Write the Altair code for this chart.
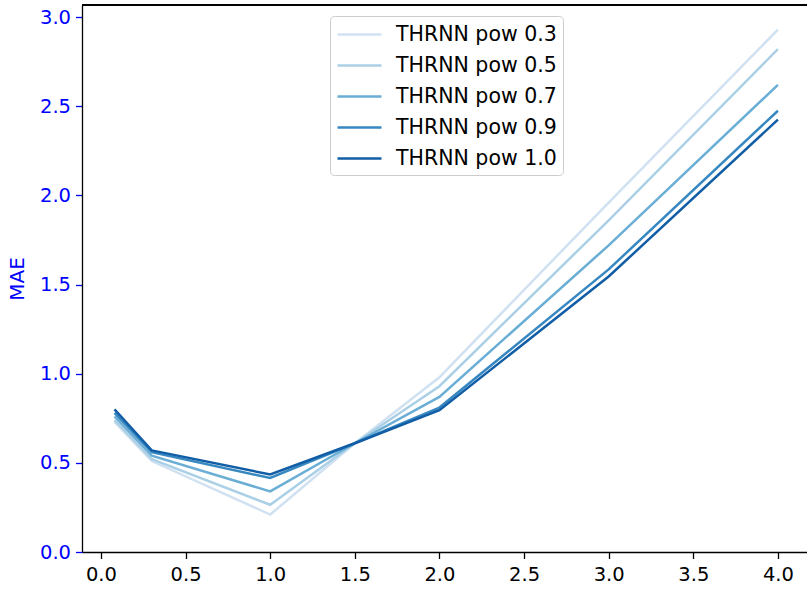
import altair as alt
import pandas as pd

# Input exponents (x) and MAE per model variant
x_vals = [0.08, 0.3, 1.0, 1.5, 2.0, 3.0, 4.0]
mae_pow03 = [0.73, 0.51, 0.21, 0.61, 0.98, 1.96, 2.93]
mae_pow05 = [0.74, 0.52, 0.265, 0.61, 0.93, 1.86, 2.82]
mae_pow07 = [0.76, 0.54, 0.34, 0.61, 0.87, 1.72, 2.62]
mae_pow09 = [0.78, 0.56, 0.415, 0.61, 0.81, 1.585, 2.475]
mae_pow10 = [0.80, 0.57, 0.435, 0.61, 0.795, 1.545, 2.425]

series_names = ["THRNN pow 0.3", "THRNN pow 0.5", "THRNN pow 0.7",
                "THRNN pow 0.9", "THRNN pow 1.0"]
series_colors = ["#d0e1f2", "#abd0e6", "#6aaed6", "#3787c0", "#125ea6"]
series_values = [mae_pow03, mae_pow05, mae_pow07, mae_pow09, mae_pow10]

rows = []
for name, vals in zip(series_names, series_values):
    for x, y in zip(x_vals, vals):
        rows.append({"x": x, "mae": y, "model": name})
df = pd.DataFrame(rows)

W, H = 725, 547
FONT = "DejaVu Sans"
FS = 19.5

lines = alt.Chart(df).mark_line(strokeWidth=2.5, clip=True).encode(
    x=alt.X("x:Q",
            scale=alt.Scale(domain=[-0.112, 4.172], nice=False, zero=False),
            axis=alt.Axis(values=[0, 0.5, 1, 1.5, 2, 2.5, 3, 3.5, 4],
                          format=".1f", title=None, grid=False,
                          labelColor="black", labelFontSize=FS,
                          labelFont=FONT, labelPadding=7,
                          tickSize=6.5, tickWidth=1.3, tickColor="black",
                          domainColor="black", domainWidth=1.3)),
    y=alt.Y("mae:Q",
            scale=alt.Scale(domain=[0, 3.068], nice=False, zero=False),
            axis=alt.Axis(values=[0, 0.5, 1, 1.5, 2, 2.5, 3],
                          format=".1f", title="MAE", grid=False,
                          labelColor="#0000ff", labelFontSize=FS,
                          labelFont=FONT, labelPadding=5,
                          tickSize=6.5, tickWidth=1.3, tickColor="#0000ff",
                          domainColor="black", domainWidth=1.3,
                          titleColor="#0000ff", titleFont=FONT,
                          titleFontSize=20, titleFontWeight="normal",
                          titleAngle=-90, titleAlign="center",
                          titleBaseline="middle", titleX=-65, titleY=H / 2)),
    color=alt.Color("model:N",
                    scale=alt.Scale(domain=series_names, range=series_colors),
                    legend=alt.Legend(title=None, orient="none",
                                      legendX=248, legendY=11,
                                      # short horizontal stroke, 4 units long
                                      symbolType="M-1,0L3,0", symbolSize=484,
                                      symbolStrokeWidth=2.5,
                                      labelFontSize=20.5, labelFont=FONT,
                                      labelColor="black", labelOffset=35,
                                      labelLimit=400,
                                      rowPadding=8.0, padding=6,
                                      fillColor="rgba(255,255,255,0.8)",
                                      strokeColor="#cccccc", cornerRadius=4)),
)

# top frame edge of the plot area
top_edge = alt.Chart(df).mark_rule(color="black", strokeWidth=1.3).encode(
    x=alt.value(0), x2=alt.value(W), y=alt.value(0)
)

chart = alt.layer(lines, top_edge).properties(
    width=W, height=H,
    autosize=alt.AutoSizeParams(type="none"),
    padding={"left": 82, "top": 5, "right": 0, "bottom": 37},
).configure_view(stroke=None)

chart.save("out.html", embed_options={"renderer": "svg", "actions": False})
